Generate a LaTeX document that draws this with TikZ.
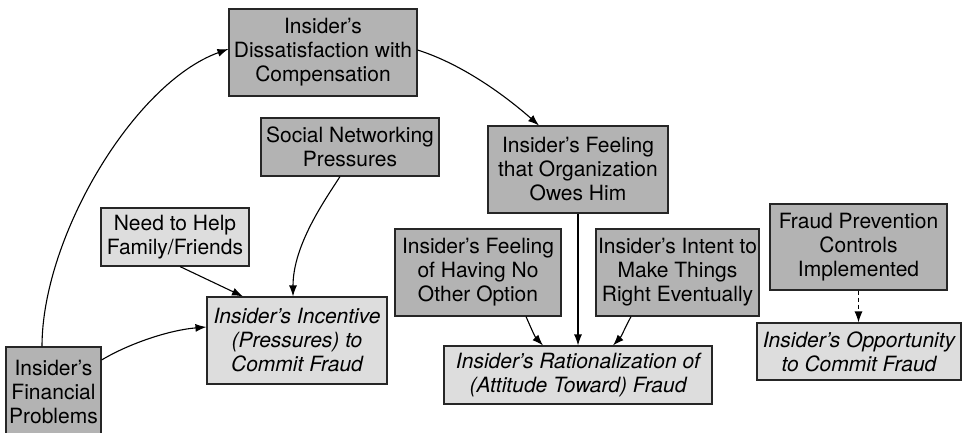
\documentclass[tikz,border=0pt]{standalone}
\usepackage{fontspec}
\setmainfont{TeX Gyre Heros}
\usetikzlibrary{arrows.meta,calc}

\definecolor{darkbox}{RGB}{179,179,179}
\definecolor{lightbox}{RGB}{221,221,221}

\tikzset{
  box/.style={draw=black!85, line width=1.1pt, inner sep=0pt, align=center,
    font=\fontsize{21}{24}\selectfont},
  darkfill/.style={box, fill=darkbox},
  lightfill/.style={box, fill=lightbox, font=\fontsize{21}{24}\selectfont\itshape},
  link/.style={line width=1.1pt, -{Latex[length=11pt,width=8pt]}},
}

\begin{document}
\begin{tikzpicture}[x=1pt,y=1pt]
\useasboundingbox (0,0) rectangle (965,-432);

% gray factor boxes
\node[darkfill, minimum width=188, minimum height=87] (dissat) at (323,-52.5)
  {Insider’s\\Dissatisfaction with\\Compensation};
\node[darkfill, minimum width=178, minimum height=58] (social) at (350,-147)
  {Social Networking\\Pressures};
\node[darkfill, minimum width=180, minimum height=87] (owes) at (578,-169.5)
  {Insider’s Feeling\\that Organization\\Owes Him};
\node[lightfill, font=\fontsize{21}{24}\selectfont, minimum width=148, minimum height=58] (need) at (175,-237)
  {Need to Help\\Family/Friends};
\node[darkfill, minimum width=95, minimum height=90] (fin) at (53.5,-392)
  {Insider’s\\Financial\\Problems};
\node[darkfill, minimum width=166, minimum height=87] (noopt) at (478,-272.5)
  {Insider’s Feeling\\of Having No\\Other Option};
\node[darkfill, minimum width=163, minimum height=87] (intent) at (677.5,-272.5)
  {Insider’s Intent to\\Make Things\\Right Eventually};
\node[darkfill, minimum width=177, minimum height=86] (fraud) at (858.5,-247)
  {Fraud Prevention\\Controls\\Implemented};

% light outcome boxes
\node[lightfill, minimum width=180, minimum height=87] (incent) at (297,-340.5)
  {Insider’s Incentive\\(Pressures) to\\Commit Fraud};
\node[lightfill, minimum width=268, minimum height=58] (rat) at (578,-375)
  {Insider’s Rationalization of\\(Attitude Toward) Fraud};
\node[lightfill, minimum width=204, minimum height=57] (opp) at (859,-351.5)
  {Insider’s Opportunity\\to Commit Fraud};

% connectors
\draw[link] ($(fin.north)+(-11.5,0)$) .. controls (42,-237) and (134,-83) .. ($(dissat.west)+(0,3.5)$);
\draw[link] ($(dissat.east)+(0,2.5)$) .. controls (465,-65) and (509,-99) .. ($(owes.north)+(-39,0)$);
\draw[link] ($(social.south)+(-10,0)$) .. controls (325,-200) and (293,-245) .. ($(incent.north)+(-4,0)$);
\draw[link] ($(need.south)+(5,0)$) -- ($(incent.north)+(-54,0)$);
\draw[link] ($(fin.east)+(0,32)$) .. controls (130,-343) and (170,-330) .. ($(incent.west)+(0,13.5)$);
\draw[link] (owes.south) -- (owes.south |- rat.north);
\draw[link] ($(noopt.south)+(48,0)$) .. controls (531,-328) and (535,-337) .. ($(rat.north)+(-35,0)$);
\draw[link] ($(intent.south)+(-46.5,0)$) .. controls (625,-328) and (621,-337) .. ($(rat.north)+(35,0)$);
\draw[link, dashed, dash pattern=on 4pt off 3pt] (fraud.south) -- (fraud.south |- opp.north);
\end{tikzpicture}
\end{document}
